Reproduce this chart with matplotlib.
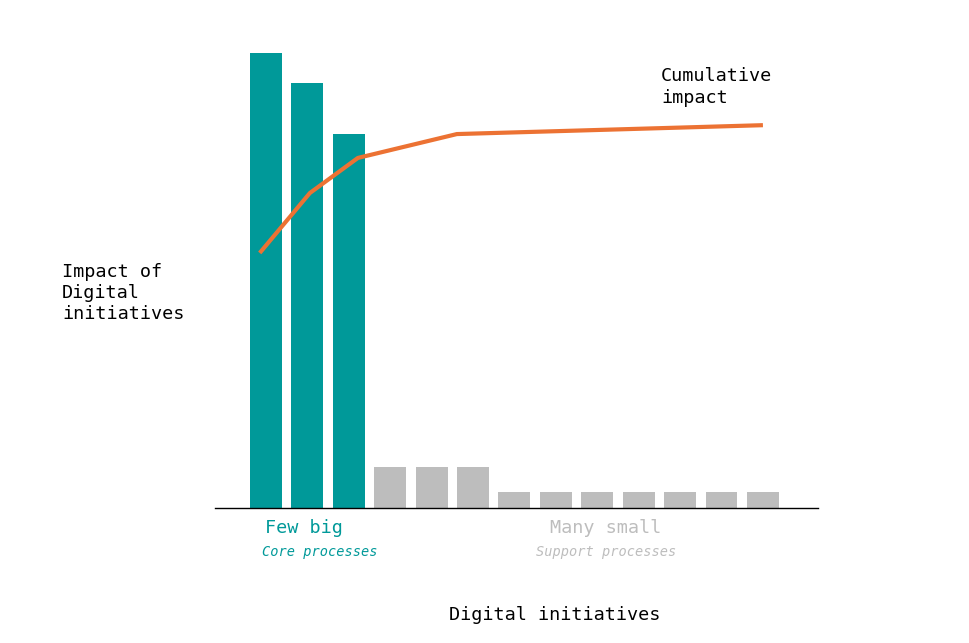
import matplotlib
matplotlib.use("Agg")
import matplotlib.pyplot as plt

# Data
bar_positions = list(range(13))
bar_heights = [97.2, 90.8, 79.9, 8.8, 8.8, 8.8, 3.4, 3.4, 3.4, 3.4, 3.4, 3.4, 3.4]
bar_groups = ["big", "big", "big"] + ["small"] * 10
line_x = [-0.15, 1.06, 2.22, 4.61, 12.0]
line_y = [54.5, 67.3, 74.8, 79.9, 81.8]

TEAL = "#009999"
GRAY = "#BDBDBD"
ORANGE = "#EC7233"

W, H = 970, 643
fig = plt.figure(figsize=(W / 100, H / 100), dpi=100)
plt.rcParams['font.family'] = ['DejaVu Sans Mono']

def fx(px):
    return px / W

def fy(py):
    return 1 - py / H

ax = fig.add_axes([fx(215), fy(508), (818 - 215) / W, (508 - 40) / H])
colors = [TEAL if g == "big" else GRAY for g in bar_groups]
ax.bar(bar_positions, bar_heights, width=0.77, color=colors, zorder=2)
ax.plot(line_x, line_y, color=ORANGE, lw=3, zorder=3, solid_capstyle='butt')
ax.set_xlim(-1.23, 13.33)
ax.set_ylim(0, 100)
for s in ["top", "right", "left"]:
    ax.spines[s].set_visible(False)
ax.spines["bottom"].set_linewidth(1)
ax.spines["bottom"].set_color("black")
ax.set_xticks([])
ax.set_yticks([])

fig.text(fx(62), fy(293), "Impact of\nDigital\ninitiatives", fontsize=13.3,
         ha="left", va="center", linespacing=1.22)
fig.text(fx(661), fy(87), "Cumulative\nimpact", fontsize=13.3,
         ha="left", va="center", linespacing=1.22)
fig.text(fx(265), fy(528), "Few big", fontsize=13.3, color=TEAL, ha="left", va="center")
fig.text(fx(262), fy(552), "Core processes", fontsize=9.8, color=TEAL,
         ha="left", va="center", style="italic")
fig.text(fx(606), fy(528), "Many small", fontsize=13.3, color=GRAY, ha="center", va="center")
fig.text(fx(606), fy(552), "Support processes", fontsize=9.8, color=GRAY,
         ha="center", va="center", style="italic")
fig.text(fx(554.5), fy(615), "Digital initiatives", fontsize=13.3,
         ha="center", va="center")

fig.savefig("out.png", dpi=100)
